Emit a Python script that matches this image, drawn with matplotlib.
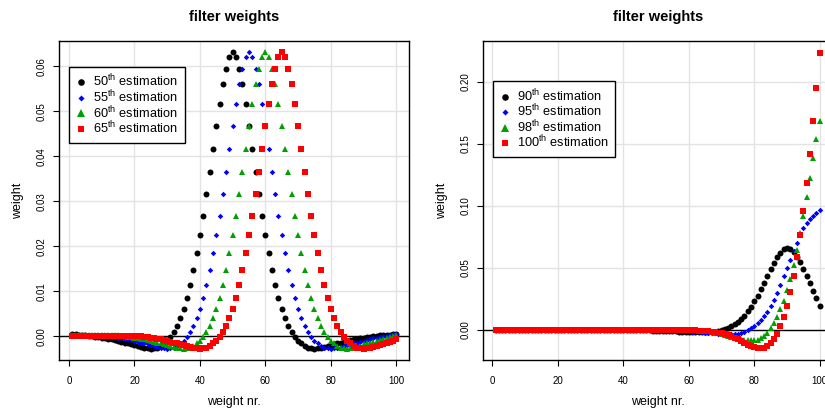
import matplotlib
matplotlib.use('Agg')
from matplotlib import pyplot as plt
import numpy as np

plt.rcParams['font.family'] = ['Liberation Sans', 'DejaVu Sans']
plt.rcParams['mathtext.default'] = 'regular'

idx = np.arange(1, 101)

# left panel: weights of the 50th, 55th, 60th, 65th estimation
w50 = [0.0005, 0.0004, 0.0003, 0.0003, 0.0002, 0.0001, 0.0000, -0.0001, -0.0002, -0.0003,
       -0.0004, -0.0005, -0.0007, -0.0008, -0.0010, -0.0012, -0.0014, -0.0016, -0.0018, -0.0020,
       -0.0022, -0.0024, -0.0026, -0.0027, -0.0028, -0.0027, -0.0025, -0.0021, -0.0016, -0.0010,
       -0.0002, 0.0009, 0.0022, 0.0040, 0.0061, 0.0085, 0.0113, 0.0147, 0.0184, 0.0224,
       0.0268, 0.0316, 0.0366, 0.0417, 0.0467, 0.0516, 0.0560, 0.0595, 0.0621, 0.0631,
       0.0621, 0.0595, 0.0560, 0.0516, 0.0467, 0.0417, 0.0366, 0.0316, 0.0268, 0.0224,
       0.0184, 0.0147, 0.0113, 0.0085, 0.0061, 0.0040, 0.0022, 0.0009, -0.0002, -0.0010,
       -0.0016, -0.0021, -0.0025, -0.0027, -0.0028, -0.0027, -0.0026, -0.0024, -0.0022, -0.0020,
       -0.0018, -0.0016, -0.0014, -0.0012, -0.0010, -0.0008, -0.0007, -0.0005, -0.0004, -0.0003,
       -0.0002, -0.0001, 0.0000, 0.0001, 0.0002, 0.0002, 0.0003, 0.0003, 0.0004, 0.0005]
w55 = [0.0003, 0.0003, 0.0003, 0.0003, 0.0003, 0.0003, 0.0003, 0.0003, 0.0002, 0.0002,
       0.0001, 0.0000, -0.0001, -0.0002, -0.0003, -0.0004, -0.0005, -0.0007, -0.0008, -0.0010,
       -0.0012, -0.0014, -0.0016, -0.0018, -0.0020, -0.0022, -0.0024, -0.0026, -0.0027, -0.0028,
       -0.0027, -0.0025, -0.0021, -0.0016, -0.0010, -0.0002, 0.0009, 0.0022, 0.0040, 0.0061,
       0.0085, 0.0113, 0.0147, 0.0184, 0.0224, 0.0268, 0.0316, 0.0366, 0.0417, 0.0467,
       0.0516, 0.0560, 0.0595, 0.0621, 0.0631, 0.0621, 0.0595, 0.0560, 0.0516, 0.0467,
       0.0417, 0.0366, 0.0316, 0.0268, 0.0224, 0.0184, 0.0147, 0.0113, 0.0085, 0.0061,
       0.0040, 0.0022, 0.0009, -0.0002, -0.0010, -0.0016, -0.0021, -0.0025, -0.0027, -0.0028,
       -0.0027, -0.0026, -0.0024, -0.0022, -0.0020, -0.0018, -0.0016, -0.0014, -0.0012, -0.0010,
       -0.0008, -0.0006, -0.0004, -0.0003, -0.0002, 0.0000, 0.0001, 0.0002, 0.0004, 0.0005]
w60 = [0.0002, 0.0002, 0.0002, 0.0002, 0.0002, 0.0002, 0.0002, 0.0002, 0.0002, 0.0002,
       0.0002, 0.0002, 0.0002, 0.0002, 0.0002, 0.0001, 0.0000, -0.0001, -0.0002, -0.0003,
       -0.0004, -0.0005, -0.0007, -0.0008, -0.0010, -0.0012, -0.0014, -0.0016, -0.0018, -0.0020,
       -0.0022, -0.0024, -0.0026, -0.0027, -0.0028, -0.0027, -0.0025, -0.0021, -0.0016, -0.0010,
       -0.0002, 0.0009, 0.0022, 0.0040, 0.0061, 0.0085, 0.0113, 0.0147, 0.0184, 0.0224,
       0.0268, 0.0316, 0.0366, 0.0417, 0.0467, 0.0516, 0.0560, 0.0595, 0.0621, 0.0631,
       0.0621, 0.0595, 0.0560, 0.0516, 0.0467, 0.0417, 0.0366, 0.0316, 0.0268, 0.0224,
       0.0184, 0.0147, 0.0113, 0.0085, 0.0061, 0.0040, 0.0022, 0.0009, -0.0002, -0.0010,
       -0.0016, -0.0021, -0.0025, -0.0027, -0.0028, -0.0027, -0.0025, -0.0023, -0.0021, -0.0018,
       -0.0016, -0.0014, -0.0012, -0.0010, -0.0008, -0.0006, -0.0004, -0.0002, 0.0000, 0.0003]
w65 = [0.0000, 0.0000, 0.0000, 0.0000, 0.0000, 0.0000, 0.0000, 0.0000, 0.0000, 0.0000,
       0.0000, 0.0000, 0.0000, 0.0000, 0.0000, 0.0000, 0.0000, 0.0000, 0.0000, 0.0000,
       0.0000, 0.0000, -0.0001, -0.0002, -0.0003, -0.0004, -0.0005, -0.0007, -0.0008, -0.0010,
       -0.0012, -0.0014, -0.0016, -0.0018, -0.0020, -0.0022, -0.0024, -0.0026, -0.0027, -0.0028,
       -0.0027, -0.0025, -0.0021, -0.0016, -0.0010, -0.0002, 0.0009, 0.0022, 0.0040, 0.0061,
       0.0085, 0.0113, 0.0147, 0.0184, 0.0224, 0.0268, 0.0316, 0.0366, 0.0417, 0.0467,
       0.0516, 0.0560, 0.0595, 0.0621, 0.0631, 0.0621, 0.0595, 0.0560, 0.0516, 0.0467,
       0.0417, 0.0366, 0.0316, 0.0268, 0.0224, 0.0184, 0.0147, 0.0113, 0.0085, 0.0061,
       0.0040, 0.0022, 0.0009, -0.0002, -0.0010, -0.0016, -0.0021, -0.0025, -0.0027, -0.0028,
       -0.0027, -0.0026, -0.0024, -0.0022, -0.0020, -0.0017, -0.0015, -0.0012, -0.0010, -0.0007]

# right panel: weights of the 90th, 95th, 98th, 100th estimation
w90 = [0.0000, 0.0000, 0.0000, 0.0000, 0.0000, 0.0000, 0.0000, 0.0000, 0.0000, 0.0000,
       0.0000, 0.0000, 0.0000, 0.0000, 0.0000, 0.0000, 0.0000, 0.0000, 0.0000, 0.0000,
       0.0000, 0.0000, 0.0000, 0.0000, 0.0000, 0.0000, 0.0000, 0.0000, 0.0000, 0.0000,
       0.0000, 0.0000, 0.0000, 0.0000, 0.0000, 0.0000, 0.0000, 0.0000, 0.0000, 0.0000,
       0.0000, 0.0000, 0.0000, 0.0000, 0.0000, -0.0001, -0.0002, -0.0003, -0.0004, -0.0005,
       -0.0006, -0.0007, -0.0008, -0.0009, -0.0010, -0.0011, -0.0012, -0.0013, -0.0014, -0.0015,
       -0.0016, -0.0017, -0.0017, -0.0017, -0.0016, -0.0015, -0.0014, -0.0012, -0.0008, -0.0002,
       0.0005, 0.0016, 0.0030, 0.0047, 0.0066, 0.0088, 0.0116, 0.0150, 0.0189, 0.0231,
       0.0277, 0.0328, 0.0382, 0.0436, 0.0490, 0.0541, 0.0586, 0.0624, 0.0650, 0.0662,
       0.0655, 0.0628, 0.0591, 0.0546, 0.0495, 0.0438, 0.0378, 0.0318, 0.0257, 0.0195]
w95 = [0.0000, 0.0000, 0.0000, 0.0000, 0.0000, 0.0000, 0.0000, 0.0000, 0.0000, 0.0000,
       0.0000, 0.0000, 0.0000, 0.0000, 0.0000, 0.0000, 0.0000, 0.0000, 0.0000, 0.0000,
       0.0000, 0.0000, 0.0000, 0.0000, 0.0000, 0.0000, 0.0000, 0.0000, 0.0000, 0.0000,
       0.0000, 0.0000, 0.0000, 0.0000, 0.0000, 0.0000, 0.0000, 0.0000, 0.0000, 0.0000,
       0.0000, 0.0000, 0.0000, 0.0000, 0.0000, 0.0000, 0.0000, 0.0000, 0.0000, 0.0000,
       -0.0001, -0.0002, -0.0003, -0.0004, -0.0005, -0.0006, -0.0007, -0.0008, -0.0010, -0.0011,
       -0.0013, -0.0015, -0.0017, -0.0019, -0.0021, -0.0023, -0.0026, -0.0028, -0.0031, -0.0033,
       -0.0035, -0.0036, -0.0036, -0.0034, -0.0030, -0.0023, -0.0013, 0.0000, 0.0015, 0.0033,
       0.0055, 0.0082, 0.0112, 0.0148, 0.0192, 0.0244, 0.0301, 0.0366, 0.0432, 0.0498,
       0.0567, 0.0636, 0.0704, 0.0771, 0.0825, 0.0866, 0.0893, 0.0920, 0.0941, 0.0965]
w98 = [0.0000, 0.0000, 0.0000, 0.0000, 0.0000, 0.0000, 0.0000, 0.0000, 0.0000, 0.0000,
       0.0000, 0.0000, 0.0000, 0.0000, 0.0000, 0.0000, 0.0000, 0.0000, 0.0000, 0.0000,
       0.0000, 0.0000, 0.0000, 0.0000, 0.0000, 0.0000, 0.0000, 0.0000, 0.0000, 0.0000,
       0.0000, 0.0000, 0.0000, 0.0000, 0.0000, 0.0000, 0.0000, 0.0000, 0.0000, 0.0000,
       0.0000, 0.0000, 0.0000, 0.0000, 0.0000, 0.0000, 0.0000, 0.0000, 0.0000, 0.0000,
       0.0000, 0.0000, 0.0000, 0.0000, 0.0000, 0.0000, 0.0000, 0.0000, 0.0000, 0.0000,
       -0.0002, -0.0003, -0.0004, -0.0006, -0.0008, -0.0011, -0.0015, -0.0020, -0.0026, -0.0033,
       -0.0040, -0.0048, -0.0056, -0.0063, -0.0069, -0.0074, -0.0078, -0.0080, -0.0081, -0.0081,
       -0.0077, -0.0067, -0.0048, -0.0021, 0.0016, 0.0060, 0.0108, 0.0167, 0.0237, 0.0320,
       0.0415, 0.0527, 0.0648, 0.0780, 0.0923, 0.1073, 0.1229, 0.1387, 0.1538, 0.1685]
w100 = [0.0000, 0.0000, 0.0000, 0.0000, 0.0000, 0.0000, 0.0000, 0.0000, 0.0000, 0.0000,
        0.0000, 0.0000, 0.0000, 0.0000, 0.0000, 0.0000, 0.0000, 0.0000, 0.0000, 0.0000,
        0.0000, 0.0000, 0.0000, 0.0000, 0.0000, 0.0000, 0.0000, 0.0000, 0.0000, 0.0000,
        0.0000, 0.0000, 0.0000, 0.0000, 0.0000, 0.0000, 0.0000, 0.0000, 0.0000, 0.0000,
        0.0000, 0.0000, 0.0000, 0.0000, 0.0000, 0.0000, 0.0000, 0.0000, 0.0000, 0.0000,
        0.0000, 0.0000, 0.0000, 0.0000, 0.0000, 0.0000, 0.0000, 0.0000, 0.0000, 0.0000,
        -0.0002, -0.0003, -0.0004, -0.0006, -0.0008, -0.0011, -0.0014, -0.0018, -0.0022, -0.0027,
        -0.0033, -0.0040, -0.0050, -0.0062, -0.0075, -0.0089, -0.0103, -0.0117, -0.0130, -0.0140,
        -0.0146, -0.0147, -0.0143, -0.0130, -0.0108, -0.0075, -0.0030, 0.0033, 0.0107, 0.0195,
        0.0309, 0.0437, 0.0591, 0.0770, 0.0962, 0.1188, 0.1422, 0.1688, 0.1954, 0.2237]

left_labels = ['50', '55', '60', '65']
right_labels = ['90', '95', '98', '100']
left_ticks = [0.00, 0.01, 0.02, 0.03, 0.04, 0.05, 0.06]
right_ticks = [0.00, 0.05, 0.10, 0.15, 0.20]
x_ticks = [0, 20, 40, 60, 80, 100]

styles = [('o', 'black', 4.3), ('D', 'blue', 2.8), ('^', '#00a000', 4.6), ('s', 'red', 4.0)]

fig = plt.figure(figsize=(8.25, 4.11), dpi=100)
ax1 = fig.add_axes([0.0719, 0.1234, 0.4242, 0.7769])
ax2 = fig.add_axes([0.5851, 0.1234, 0.4242, 0.7769])


def draw_panel(ax, series, labels, yticks, ylim, leg_pos):
    ax.set_xlim(-2.96, 103.96)
    ax.set_ylim(*ylim)
    ax.set_xticks(x_ticks)
    ax.set_yticks(yticks)
    ax.set_yticklabels(['%.2f' % t for t in yticks])
    ax.grid(True, color='#e3e3e3', linewidth=1.0)
    ax.set_axisbelow(True)
    ax.axhline(0, color='black', linewidth=1.0, zorder=2)
    for w, lab, (m, c, ms) in zip(series, labels, styles):
        ax.plot(idx, w, linestyle='none', marker=m, color=c, markersize=ms,
                markeredgewidth=0, zorder=3, label=lab + '$^{th}$ estimation')
    for s in ax.spines.values():
        s.set_linewidth(1.0)
        s.set_color('black')
    ax.tick_params(axis='both', direction='out', length=4, width=0.8,
                   labelsize=7, colors='black')
    ax.tick_params(axis='x', pad=7)
    ax.tick_params(axis='y', labelrotation=90, pad=5)
    for t in ax.get_yticklabels():
        t.set_verticalalignment('center')
    ax.text(0.5, 1.0736, 'filter weights', transform=ax.transAxes, ha='center',
            va='center', fontsize=10.5, fontweight='bold')
    ax.text(0.5, -0.1297, 'weight nr.', transform=ax.transAxes, ha='center',
            va='center', fontsize=9)
    ax.text(-0.117, 0.5, 'weight', transform=ax.transAxes, ha='center',
            va='center', rotation=90, fontsize=9)
    leg = ax.legend(loc='upper left', bbox_to_anchor=leg_pos, borderaxespad=0,
                    fontsize=9.2, fancybox=False, framealpha=1, edgecolor='black',
                    handlelength=0.9, handletextpad=0.5, labelspacing=-0.08,
                    borderpad=0.5, markerscale=1.1)
    leg.get_frame().set_linewidth(1.0)


draw_panel(ax1, [w50, w55, w60, w65], left_labels, left_ticks,
           (-0.00533, 0.06562), (0.0277, 0.9195))
draw_panel(ax2, [w90, w95, w98, w100], right_labels, right_ticks,
           (-0.0244, 0.2331), (0.0286, 0.8747))

fig.savefig('out.png', dpi=100)
